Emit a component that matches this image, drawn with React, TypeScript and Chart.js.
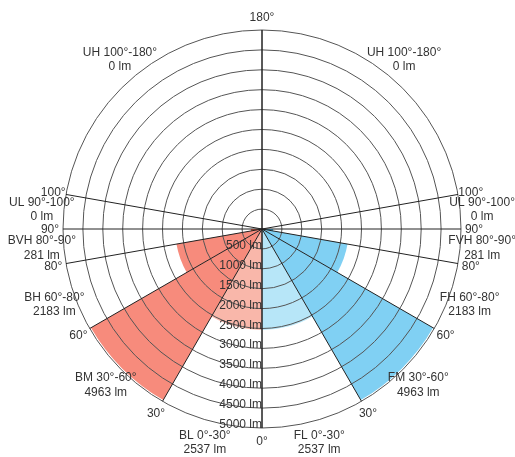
import React, { useEffect, useRef } from 'react';
import { Chart, registerables } from 'chart.js';

Chart.register(...registerables);

// Zones listed clockwise starting at the bottom (0°), going up the left (back) side, then down the right (front) side
const zoneCodes = ['BL', 'BM', 'BH', 'BVH', 'UL', 'UH', 'UH', 'UL', 'FVH', 'FH', 'FM', 'FL'];
const zoneRanges = ['0°-30°', '30°-60°', '60°-80°', '80°-90°', '90°-100°', '100°-180°', '100°-180°', '90°-100°', '80°-90°', '60°-80°', '30°-60°', '0°-30°'];
const zoneSpans = [30, 30, 20, 10, 10, 80, 80, 10, 10, 20, 30, 30];
const zoneLumens = [2537, 4963, 2183, 281, 0, 0, 0, 0, 281, 2183, 4963, 2537];
const zoneColors = ['#f9b7aa', '#f78b7c', '#f78b7c', '#f55a3c', '#f55a3c', '#f55a3c', '#3ab9ee', '#3ab9ee', '#3ab9ee', '#80d0f3', '#80d0f3', '#b7e6f8'];

const boundaryAngles = [0, 30, 60, 80, 90, 100, 180];
const radialTicks = [500, 1000, 1500, 2000, 2500, 3000, 3500, 4000, 4500, 5000];
const radialMax = 5000;
const radialUnit = 'lm';

const FONT = '12px "Liberation Sans", Arial, sans-serif';
const TEXT = '#333333';

const overlayPlugin = {
  id: 'bugOverlay',
  afterDraw(chart: any) {
    const ctx = chart.ctx;
    const scale = chart.scales.r;
    const cx = scale.xCenter;
    const cy = scale.yCenter;
    const R = scale.getDistanceFromCenterForValue(radialMax);
    ctx.save();

    // angle lines
    ctx.strokeStyle = '#222222';
    ctx.lineWidth = 1;
    boundaryAngles.forEach((deg) => {
      [1, -1].forEach((side) => {
        const a = Math.PI / 2 + side * (deg * Math.PI) / 180;
        ctx.beginPath();
        ctx.moveTo(cx, cy);
        ctx.lineTo(cx + R * Math.cos(a), cy + R * Math.sin(a));
        ctx.stroke();
      });
    });

    ctx.font = FONT;
    ctx.fillStyle = TEXT;

    // radial tick labels
    ctx.textAlign = 'right';
    ctx.textBaseline = 'alphabetic';
    radialTicks.forEach((v) => {
      const y = cy + scale.getDistanceFromCenterForValue(v);
      ctx.fillText(`${v} ${radialUnit}`, cx, y);
    });

    // degree labels
    ctx.textAlign = 'center';
    ctx.textBaseline = 'middle';
    boundaryAngles.forEach((deg) => {
      const sides = deg === 0 || deg === 180 ? [1] : [1, -1];
      sides.forEach((side) => {
        const a = Math.PI / 2 + side * (deg * Math.PI) / 180;
        const rr = R + 13;
        ctx.fillText(`${deg}°`, cx + rr * Math.cos(a), cy + rr * Math.sin(a) + 1);
      });
    });

    // zone labels
    const meta = chart.getDatasetMeta(0);
    meta.data.forEach((arc: any, i: number) => {
      const { startAngle, endAngle } = arc.getProps(['startAngle', 'endAngle'], true);
      const mid = (startAngle + endAngle) / 2;
      const rr = R + 22;
      const x = cx + rr * Math.cos(mid);
      const y = cy + rr * Math.sin(mid);
      ctx.fillText(`${zoneCodes[i]} ${zoneRanges[i]}`, x, y - 7.25);
      ctx.fillText(`${zoneLumens[i]} ${radialUnit}`, x, y + 7.25);
    });

    ctx.restore();
  },
};

export default function App() {
  const canvasRef = useRef<HTMLCanvasElement | null>(null);

  useEffect(() => {
    if (!canvasRef.current) return;
    const chart = new Chart(canvasRef.current, {
      type: 'polarArea',
      data: {
        labels: zoneCodes.map((c, i) => `${c} ${zoneRanges[i]}`),
        datasets: [
          {
            data: zoneLumens,
            backgroundColor: zoneColors,
            borderWidth: 0,
            angle: (c: any) => zoneSpans[c.dataIndex],
          } as any,
        ],
      },
      options: {
        animation: false,
        responsive: true,
        maintainAspectRatio: false,
        layout: { padding: { top: 30, bottom: 29, left: 62, right: 53 } },
        plugins: {
          legend: { display: false },
          tooltip: { enabled: false },
        },
        scales: {
          r: {
            min: 0,
            max: radialMax,
            startAngle: 180,
            ticks: { display: false, stepSize: 500 },
            grid: { circular: true, color: '#555555', lineWidth: 1, z: 1 },
            angleLines: { display: false },
            pointLabels: { display: false },
          },
        },
      } as any,
      plugins: [overlayPlugin],
    });
    return () => chart.destroy();
  }, []);

  return (
    <div style={{ position: 'absolute', left: 0, top: 0, width: 515, height: 457 }}>
      <canvas ref={canvasRef} />
    </div>
  );
}
